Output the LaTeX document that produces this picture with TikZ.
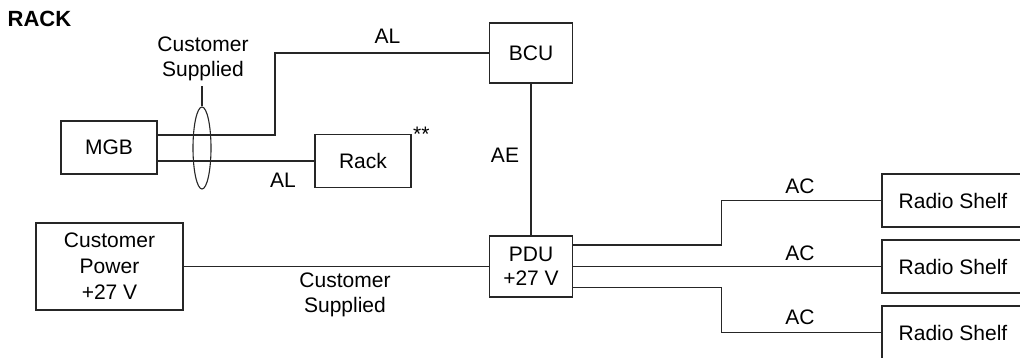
\documentclass[tikz,border=0pt]{standalone}
\usepackage{fontspec}
\setmainfont{Liberation Sans}
\usetikzlibrary{shapes.geometric}
\begin{document}
\begin{tikzpicture}[x=1pt,y=-1pt,
  every node/.style={font=\fontsize{21}{25}\selectfont, inner sep=0pt, text=black},
  box/.style={draw=black!85, line width=1.1pt, rectangle, minimum width=#1},
  wire/.style={draw=black!85, line width=1.1pt},
  lbl/.style={anchor=base}]
\path[use as bounding box] (0,0) rectangle (1020,358);
\clip (0,0) rectangle (1020,358);

\node[anchor=base west, font=\fontsize{22}{26}\selectfont\bfseries] (title) at (7.5,27) {RACK};

\node[box=96pt, minimum height=53pt] (MGB) at (109,147.5) {MGB};
\node[box=96pt, minimum height=53pt] (Rack) at (363,161) {Rack};
\node[box=83pt, minimum height=60pt] (BCU) at (531,53) {BCU};
\node[box=82.5pt, minimum height=61pt, align=center, font=\fontsize{21}{24}\selectfont] (PDU) at (531,266.5) {PDU\\+27 V};
\node[box=147pt, minimum height=87pt, align=center, font=\fontsize{21}{26}\selectfont] (CP) at (109.5,266.5) {Customer\\Power\\+27 V};
\node[box=142pt, minimum height=53pt] (S1) at (953,200.5) {Radio Shelf};
\node[box=142pt, minimum height=53pt] (S2) at (953,266.5) {Radio Shelf};
\node[box=142pt, minimum height=53pt] (S3) at (953,332.5) {Radio Shelf};

\node[ellipse, draw=black!85, line width=1.1pt, minimum width=18pt, minimum height=82pt] (ell) at (202,148) {};
\coordinate (ellTop) at (202,86);

% connectors
\draw[wire] ([yshift=12.5pt]MGB.east) -| ([xshift=-214pt]BCU.west) -- (BCU.west);
\draw[wire] (MGB.east |- Rack.west) -- (Rack.west);
\draw[wire] (ell.north) -- (ellTop);
\draw[wire] (BCU.south) -- (PDU.north);
\draw[wire] (CP.east) -- (PDU.west);
\draw[wire] ([yshift=21.5pt]PDU.east) -| ([xshift=-160pt]S1.west) -- (S1.west);
\draw[wire] (PDU.east) -- (S2.west);
\draw[wire] ([yshift=-21pt]PDU.east) -| ([xshift=-160pt]S3.west) -- (S3.west);

% labels
\node[align=center] (cs1) at (203,58.8) {Customer\\Supplied};
\node[align=center] (cs2) at (345,295) {Customer\\Supplied};
\node[lbl] (al1) at (387.5,44) {AL};
\node[lbl] (al2) at (283,188) {AL};
\node[lbl] (ae) at (505,163) {AE};
\node[lbl] (ac1) at (800,194) {AC};
\node[lbl] (ac2) at (800,260) {AC};
\node[lbl] (ac3) at (800,324) {AC};
\node[anchor=base west] (stars) at (413,142) {**};
\end{tikzpicture}
\end{document}
